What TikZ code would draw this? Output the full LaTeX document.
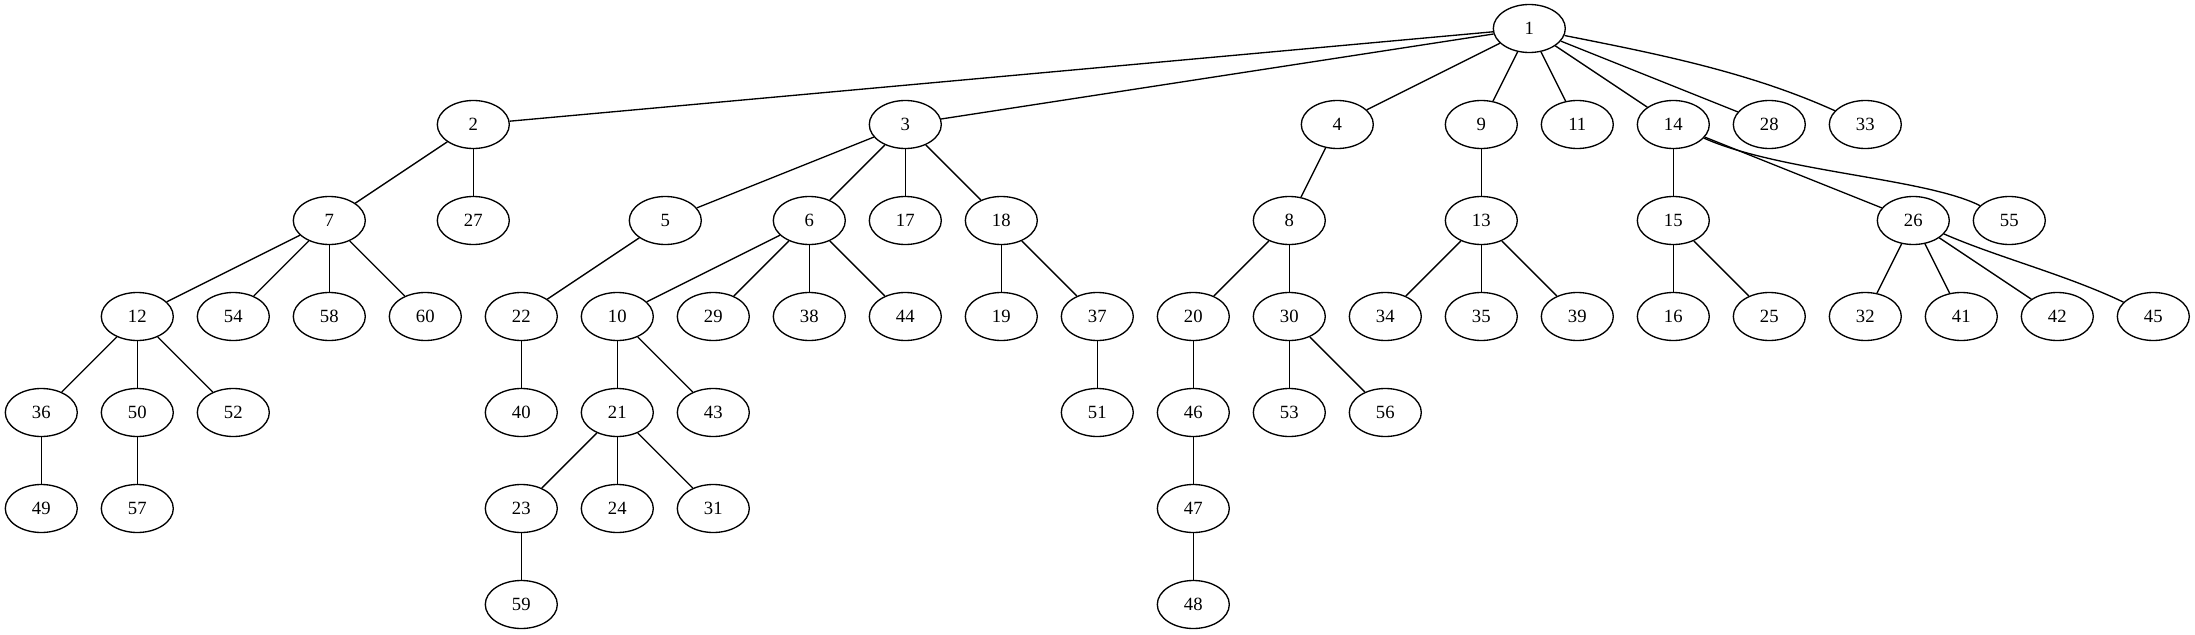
\documentclass[tikz,border=0pt]{standalone}
\usepackage{fontspec}
\setmainfont{Liberation Serif}
\usetikzlibrary{shapes.geometric}
\tikzset{
  gv/.style={ellipse, draw, line width=1pt, minimum width=54pt, minimum height=36pt, inner sep=0pt, font=\fontsize{14pt}{16pt}\selectfont},
  gvedge/.style={line width=1pt}
}
\begin{document}
\begin{tikzpicture}[x=0.75pt, y=-0.75pt]
\useasboundingbox (0,0) rectangle (2195,635);
% rows
\def\ra{28.5}\def\rb{124.5}\def\rc{220.5}\def\rd{316.5}\def\re{412.5}\def\rf{508.5}\def\rg{604.5}
% row 0
\node[gv] (n1) at (1529.3,\ra) {1};
% row 1
\node[gv] (n2) at (473.3,\rb) {2};
\node[gv] (n3) at (905.3,\rb) {3};
\node[gv] (n4) at (1337.3,\rb) {4};
\node[gv] (n9) at (1481.3,\rb) {9};
\node[gv] (n11) at (1577.3,\rb) {11};
\node[gv] (n14) at (1673.3,\rb) {14};
\node[gv] (n28) at (1769.3,\rb) {28};
\node[gv] (n33) at (1865.3,\rb) {33};
% row 2
\node[gv] (n7) at (329.3,\rc) {7};
\node[gv] (n27) at (473.3,\rc) {27};
\node[gv] (n5) at (665.3,\rc) {5};
\node[gv] (n6) at (809.3,\rc) {6};
\node[gv] (n17) at (905.3,\rc) {17};
\node[gv] (n18) at (1001.3,\rc) {18};
\node[gv] (n8) at (1289.3,\rc) {8};
\node[gv] (n13) at (1481.3,\rc) {13};
\node[gv] (n15) at (1673.3,\rc) {15};
\node[gv] (n26) at (1913.3,\rc) {26};
\node[gv] (n55) at (2009.3,\rc) {55};
% row 3
\node[gv] (n12) at (137.3,\rd) {12};
\node[gv] (n54) at (233.3,\rd) {54};
\node[gv] (n58) at (329.3,\rd) {58};
\node[gv] (n60) at (425.3,\rd) {60};
\node[gv] (n22) at (521.3,\rd) {22};
\node[gv] (n10) at (617.3,\rd) {10};
\node[gv] (n29) at (713.3,\rd) {29};
\node[gv] (n38) at (809.3,\rd) {38};
\node[gv] (n44) at (905.3,\rd) {44};
\node[gv] (n19) at (1001.3,\rd) {19};
\node[gv] (n37) at (1097.3,\rd) {37};
\node[gv] (n20) at (1193.3,\rd) {20};
\node[gv] (n30) at (1289.3,\rd) {30};
\node[gv] (n34) at (1385.3,\rd) {34};
\node[gv] (n35) at (1481.3,\rd) {35};
\node[gv] (n39) at (1577.3,\rd) {39};
\node[gv] (n16) at (1673.3,\rd) {16};
\node[gv] (n25) at (1769.3,\rd) {25};
\node[gv] (n32) at (1865.3,\rd) {32};
\node[gv] (n41) at (1961.3,\rd) {41};
\node[gv] (n42) at (2057.3,\rd) {42};
\node[gv] (n45) at (2153.3,\rd) {45};
% row 4
\node[gv] (n36) at (41.3,\re) {36};
\node[gv] (n50) at (137.3,\re) {50};
\node[gv] (n52) at (233.3,\re) {52};
\node[gv] (n40) at (521.3,\re) {40};
\node[gv] (n21) at (617.3,\re) {21};
\node[gv] (n43) at (713.3,\re) {43};
\node[gv] (n51) at (1097.3,\re) {51};
\node[gv] (n46) at (1193.3,\re) {46};
\node[gv] (n53) at (1289.3,\re) {53};
\node[gv] (n56) at (1385.3,\re) {56};
% row 5
\node[gv] (n49) at (41.3,\rf) {49};
\node[gv] (n57) at (137.3,\rf) {57};
\node[gv] (n23) at (521.3,\rf) {23};
\node[gv] (n24) at (617.3,\rf) {24};
\node[gv] (n31) at (713.3,\rf) {31};
\node[gv] (n47) at (1193.3,\rf) {47};
% row 6
\node[gv] (n59) at (521.3,\rg) {59};
\node[gv] (n48) at (1193.3,\rg) {48};
% edges
\draw[gvedge] (n1) -- (n2);
\draw[gvedge] (n1) -- (n3);
\draw[gvedge] (n1) -- (n4);
\draw[gvedge] (n1) -- (n9);
\draw[gvedge] (n1) -- (n11);
\draw[gvedge] (n1) -- (n14);
\draw[gvedge] (n1) -- (n28);
\draw[gvedge] (n1) .. controls (1654,53.3) and (1748,71.4) .. (n33);
\draw[gvedge] (n2) -- (n7);
\draw[gvedge] (n2) -- (n27);
\draw[gvedge] (n3) -- (n5);
\draw[gvedge] (n3) -- (n6);
\draw[gvedge] (n3) -- (n17);
\draw[gvedge] (n3) -- (n18);
\draw[gvedge] (n4) -- (n8);
\draw[gvedge] (n9) -- (n13);
\draw[gvedge] (n14) -- (n15);
\draw[gvedge] (n14) -- (n26);
\draw[gvedge] (n14) .. controls (1780,172) and (1925.6,178.1) .. (n55);
\draw[gvedge] (n7) -- (n12);
\draw[gvedge] (n7) -- (n54);
\draw[gvedge] (n7) -- (n58);
\draw[gvedge] (n7) -- (n60);
\draw[gvedge] (n5) -- (n22);
\draw[gvedge] (n6) -- (n10);
\draw[gvedge] (n6) -- (n29);
\draw[gvedge] (n6) -- (n38);
\draw[gvedge] (n6) -- (n44);
\draw[gvedge] (n18) -- (n19);
\draw[gvedge] (n18) -- (n37);
\draw[gvedge] (n8) -- (n20);
\draw[gvedge] (n8) -- (n30);
\draw[gvedge] (n13) -- (n34);
\draw[gvedge] (n13) -- (n35);
\draw[gvedge] (n13) -- (n39);
\draw[gvedge] (n15) -- (n16);
\draw[gvedge] (n15) -- (n25);
\draw[gvedge] (n26) -- (n32);
\draw[gvedge] (n26) -- (n41);
\draw[gvedge] (n26) -- (n42);
\draw[gvedge] (n26) .. controls (1996.3,256.9) and (2067.2,275.1) .. (n45);
\draw[gvedge] (n12) -- (n36);
\draw[gvedge] (n12) -- (n50);
\draw[gvedge] (n12) -- (n52);
\draw[gvedge] (n22) -- (n40);
\draw[gvedge] (n10) -- (n21);
\draw[gvedge] (n10) -- (n43);
\draw[gvedge] (n37) -- (n51);
\draw[gvedge] (n20) -- (n46);
\draw[gvedge] (n30) -- (n53);
\draw[gvedge] (n30) -- (n56);
\draw[gvedge] (n36) -- (n49);
\draw[gvedge] (n50) -- (n57);
\draw[gvedge] (n21) -- (n23);
\draw[gvedge] (n21) -- (n24);
\draw[gvedge] (n21) -- (n31);
\draw[gvedge] (n46) -- (n47);
\draw[gvedge] (n23) -- (n59);
\draw[gvedge] (n47) -- (n48);
\end{tikzpicture}
\end{document}
